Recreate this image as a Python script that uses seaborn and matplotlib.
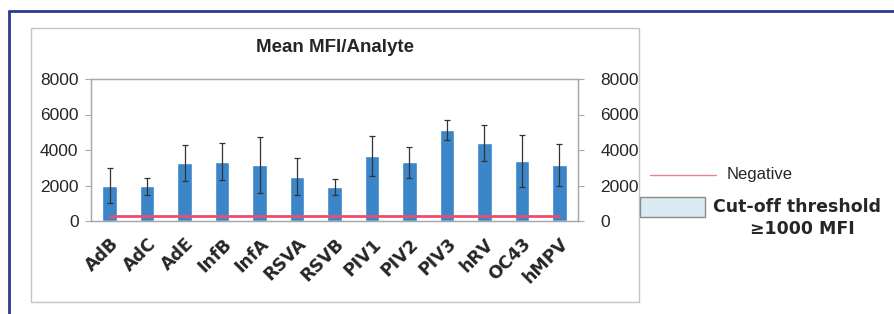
import numpy as np
import matplotlib
matplotlib.use('Agg')
import matplotlib.pyplot as plt
from matplotlib.patches import Rectangle
from matplotlib.lines import Line2D
import seaborn as sns

# values
categories = ['AdB', 'AdC', 'AdE', 'InfB', 'InfA', 'RSVA', 'RSVB',
              'PIV1', 'PIV2', 'PIV3', 'hRV', 'OC43', 'hMPV']
mean_mfi = [2000, 1950, 3270, 3350, 3150, 2500, 1920,
            3650, 3300, 5150, 4400, 3380, 3150]
sd_mfi = [1000, 500, 1020, 1060, 1600, 1050, 450,
          1120, 880, 560, 1000, 1440, 1200]
negative = [300, 300, 300, 300, 300, 300, 300,
            300, 300, 300, 300, 300, 300]
y_ticks = [0, 2000, 4000, 6000, 8000]

sns.set_style('white')
plt.rcParams['font.family'] = ['Liberation Sans', 'DejaVu Sans']

W, H = 894, 314
fig = plt.figure(figsize=(W / 100, H / 100), dpi=100)

def fx(px):
    return px / W

def fy(py):
    return 1 - py / H

# outer navy frame (only top and left visible) and inner gray chart box
fig.add_artist(Line2D([fx(9), fx(9)], [fy(11), 0], color='#2d3c8e', lw=2))
fig.add_artist(Line2D([fx(9), 1], [fy(11), fy(11)], color='#2d3c8e', lw=2))
fig.add_artist(Rectangle((fx(31), fy(302)), fx(639) - fx(31), fy(28) - fy(302),
                         fill=False, edgecolor='#c4c4c4', lw=1))

ax = fig.add_axes([fx(91), fy(221), fx(578) - fx(91), fy(79) - fy(221)])

sns.barplot(x=categories, y=mean_mfi, color='#3b86c8', saturation=1,
            width=0.39, errorbar=None, ax=ax)
xpos = np.arange(len(categories))
ax.errorbar(xpos, mean_mfi, yerr=sd_mfi, fmt='none', ecolor='#333333',
            elinewidth=0.9, capsize=2.2, capthick=0.9)
ax.plot(xpos, negative, color='#e8506a', lw=2, zorder=5)

ax.set_xlim(-0.5, len(categories) - 0.5)
ax.set_ylim(0, 8000)
ax.set_yticks(y_ticks)
ax.set_xlabel('')
ax.set_ylabel('')
for s in ax.spines.values():
    s.set_color('#a8a8a8')
    s.set_linewidth(1)
ax.tick_params(axis='y', length=4, color='#a8a8a8', labelsize=12.5, pad=5)
ax.tick_params(axis='x', length=0, pad=10)
ax.set_xticks(xpos)
ax.set_xticklabels(categories, rotation=45, ha='right', rotation_mode='anchor',
                   fontsize=12.5, fontweight='bold', family='DejaVu Sans')

ax2 = ax.twinx()
ax2.set_ylim(0, 8000)
ax2.set_yticks(y_ticks)
for s in ax2.spines.values():
    s.set_color('#a8a8a8')
ax2.tick_params(axis='y', length=4, color='#a8a8a8', labelsize=12.5, pad=12)

fig.text(fx(335), fy(47), 'Mean MFI/Analyte', ha='center', va='center',
         fontsize=13.5, fontweight='bold')

# legend drawn by hand to match the reference placement
fig.add_artist(Line2D([fx(650), fx(716)], [fy(175), fy(175)], color='#f08090', lw=1))
fig.text(fx(727), fy(175), 'Negative', ha='left', va='center', fontsize=12,
         family=['Liberation Sans Narrow', 'Liberation Sans'])
fig.add_artist(Rectangle((fx(640), fy(217)), fx(705) - fx(640), fy(197) - fy(217),
                         facecolor='#dbebf4', edgecolor='#8a8a8a', lw=1))
fig.text(fx(797), fy(207), 'Cut-off threshold', ha='center', va='center',
         fontsize=12.5, fontweight='bold', family='DejaVu Sans')
fig.text(fx(802), fy(229), '≥1000 MFI', ha='center', va='center',
         fontsize=12.5, fontweight='bold', family='DejaVu Sans')

fig.savefig('out.png', dpi=100)
